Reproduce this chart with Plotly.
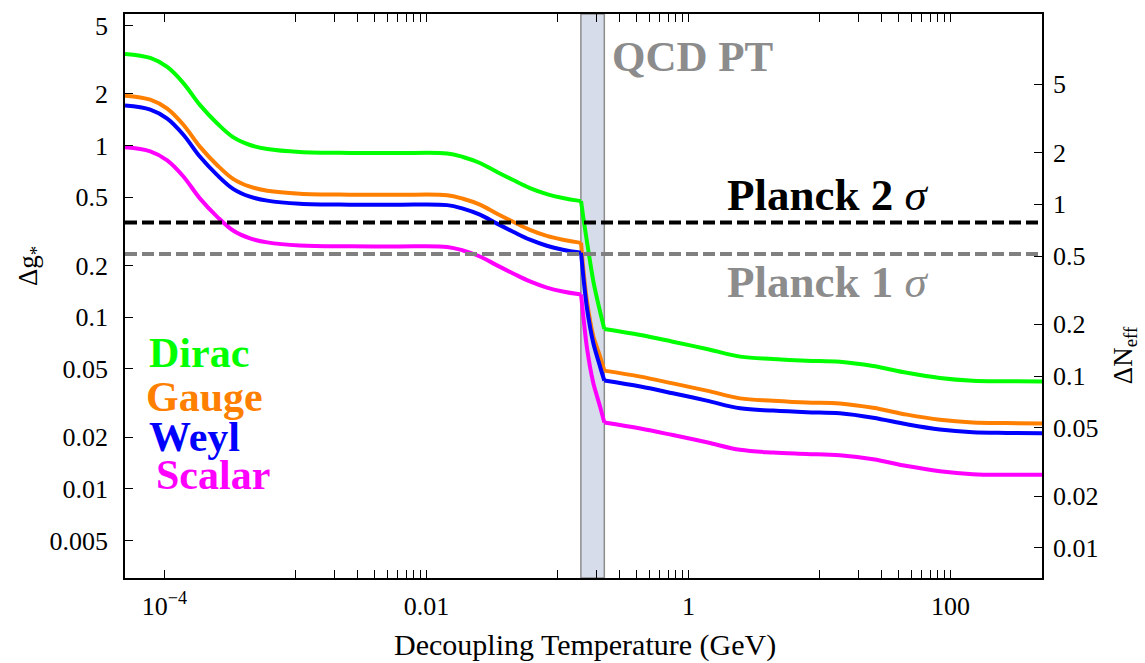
import numpy as np
import plotly.graph_objects as go

# ---------------- data ----------------
# decoupling temperature (GeV) – before the QCD band
T_pre = [5e-5, 7.8e-5, 1.05e-4, 1.39e-4, 1.87e-4, 2.52e-4, 3.34e-4, 4.5e-4, 6.1e-4,
         1.08e-3, 2.6e-3, 6.0e-3, 0.0144, 0.019, 0.0256, 0.0346, 0.0459, 0.0617,
         0.083, 0.110, 0.1436, 0.1514]
# inside the QCD band
T_qcd = [0.1514, 0.1577, 0.1675, 0.188, 0.2115, 0.228]
# after the QCD band
T_post = [0.228, 0.43, 0.76, 1.38, 2.48, 4.42, 8.0, 14.3, 25.7, 46.6, 83, 148, 269, 500]

dirac_pre = [3.42, 3.24, 2.87, 2.32, 1.72, 1.35, 1.12, 1.008, 0.955, 0.918, 0.906, 0.905,
             0.900, 0.858, 0.792, 0.702, 0.630, 0.566, 0.522, 0.495, 0.478, 0.476]
gauge_pre = [1.954, 1.851, 1.640, 1.326, 0.983, 0.771, 0.640, 0.576, 0.546, 0.525, 0.518, 0.517,
             0.514, 0.490, 0.453, 0.401, 0.360, 0.323, 0.298, 0.283, 0.273, 0.272]
weyl_pre = [1.71, 1.62, 1.435, 1.16, 0.86, 0.675, 0.56, 0.504, 0.478, 0.459, 0.453, 0.4525,
            0.450, 0.429, 0.396, 0.351, 0.315, 0.283, 0.261, 0.2475, 0.239, 0.238]
scalar_pre = [0.977, 0.926, 0.820, 0.663, 0.491, 0.386, 0.320, 0.288, 0.273, 0.262, 0.259, 0.2586,
              0.257, 0.245, 0.226, 0.2006, 0.180, 0.1617, 0.149, 0.1414, 0.1366, 0.136]

dirac_qcd = [0.476, 0.38, 0.28, 0.162, 0.108, 0.0855]
gauge_qcd = [0.272, 0.189, 0.126, 0.0773, 0.0592, 0.0489]
weyl_qcd = [0.238, 0.172, 0.115, 0.0706, 0.0516, 0.0428]
scalar_qcd = [0.136, 0.1008, 0.0674, 0.0413, 0.0302, 0.0244]

dirac_post = [0.0855, 0.0789, 0.0721, 0.0654, 0.0590, 0.0572, 0.0559, 0.0551, 0.0520, 0.0475,
              0.0443, 0.0427, 0.0424, 0.0422]
gauge_post = [0.0489, 0.0451, 0.0412, 0.0374, 0.0337, 0.0327, 0.0319, 0.0315, 0.0297, 0.0271,
              0.0253, 0.0244, 0.0242, 0.0241]
weyl_post = [0.0428, 0.0395, 0.0361, 0.0327, 0.0295, 0.0286, 0.0280, 0.0276, 0.0260, 0.0238,
             0.0222, 0.0214, 0.0212, 0.0211]
scalar_post = [0.0244, 0.0225, 0.0206, 0.0187, 0.0169, 0.0163, 0.0160, 0.0157, 0.0149, 0.0136,
               0.0127, 0.0122, 0.0121, 0.0121]

series_names = ["Dirac", "Gauge", "Weyl", "Scalar"]
series_colors = ["#00ff00", "#ff7f00", "#0000ff", "#ff00ff"]

planck_2sigma = 0.356
planck_1sigma = 0.234
qcd_band = [0.151, 0.228]
neff_factor = 2.2   # Delta N_eff = factor * Delta g_*

x_tickvals = [1e-4, 1e-2, 1, 100]
x_ticktext = ["10<sup>\u22124</sup>", "0.01", "1", "100"]
y_tickvals = [0.005, 0.01, 0.02, 0.05, 0.1, 0.2, 0.5, 1, 2, 5]
y_ticktext = ["0.005", "0.01", "0.02", "0.05", "0.1", "0.2", "0.5", "1", "2", "5"]
y2_tickvals = [0.01, 0.02, 0.05, 0.1, 0.2, 0.5, 1, 2, 5]
y2_ticktext = ["0.01", "0.02", "0.05", "0.1", "0.2", "0.5", "1", "2", "5"]

x_range = [5e-5, 500]
y_range = [0.00303, 5.84]

# ---------------- figure ----------------
FONT = "Liberation Serif"
fig = go.Figure()

pre = [dirac_pre, gauge_pre, weyl_pre, scalar_pre]
qcd = [dirac_qcd, gauge_qcd, weyl_qcd, scalar_qcd]
post = [dirac_post, gauge_post, weyl_post, scalar_post]

for name, col, a, b, c in zip(series_names, series_colors, pre, qcd, post):
    fig.add_trace(go.Scatter(x=T_pre, y=a, mode="lines", name=name, showlegend=False,
                             line=dict(color=col, width=4, shape="spline", smoothing=1.0)))
    fig.add_trace(go.Scatter(x=T_qcd, y=b, mode="lines", name=name, showlegend=False,
                             line=dict(color=col, width=4, shape="spline", smoothing=0.6)))
    fig.add_trace(go.Scatter(x=T_post, y=c, mode="lines", name=name, showlegend=False,
                             line=dict(color=col, width=4, shape="spline", smoothing=1.0)))

# invisible trace so that the right axis is drawn
fig.add_trace(go.Scatter(x=[x_range[0]], y=[y2_tickvals[0]], yaxis="y2", mode="markers",
                         marker=dict(opacity=0), showlegend=False, hoverinfo="skip"))

# QCD band
fig.add_shape(type="rect", xref="x", yref="paper", x0=qcd_band[0], x1=qcd_band[1], y0=0, y1=1,
              fillcolor="#d6dce9", line=dict(color="#8c8c8c", width=1.5), layer="below")

# Planck lines
fig.add_shape(type="line", xref="paper", yref="y", x0=0, x1=1, y0=planck_2sigma, y1=planck_2sigma,
              line=dict(color="black", width=4, dash="12px,5px"))
fig.add_shape(type="line", xref="paper", yref="y", x0=0, x1=1, y0=planck_1sigma, y1=planck_1sigma,
              line=dict(color="#808080", width=4, dash="12px,5px"))

# text annotations
def ann(text, x, y, color, size, xanchor="left", yanchor="middle", angle=0):
    fig.add_annotation(text=text, xref="paper", yref="paper", x=x, y=y, showarrow=False,
                       xanchor=xanchor, yanchor=yanchor, textangle=angle,
                       font=dict(family=FONT, size=size, color=color))

ann("<b>QCD PT</b>", 0.529, 0.924, "#8c8c8c", 43)
ann("<b>Planck 2 </b><i>\u03c3</i>", 0.767, 0.679, "black", 45, xanchor="center")
ann("<b>Planck 1 </b><i>\u03c3</i>", 0.767, 0.525, "#8c8c8c", 45, xanchor="center")
ann("<b>Dirac</b>", 0.024, 0.399, series_colors[0], 42)
ann("<b>Gauge</b>", 0.021, 0.321, series_colors[1], 42)
ann("<b>Weyl</b>", 0.024, 0.250, series_colors[2], 42)
ann("<b>Scalar</b>", 0.032, 0.183, series_colors[3], 42)

# axis titles
ann("\u0394g<sub>*</sub>", -0.1036, 0.553, "black", 27, xanchor="center", angle=-90)
ann("\u0394N<sub>eff</sub>", 1.0905, 0.395, "black", 27, xanchor="center", angle=-90)
ann("Decoupling Temperature (GeV)", 0.5016, -0.118, "black", 30, xanchor="center")

fig.update_layout(
    width=1145, height=663,
    margin=dict(l=125, r=103, t=14, b=85),
    plot_bgcolor="white", paper_bgcolor="white",
    font=dict(family=FONT, size=26, color="black"),
    showlegend=False,
    xaxis=dict(type="log", range=[np.log10(x_range[0]), np.log10(x_range[1])],
               tickvals=x_tickvals, ticktext=x_ticktext, ticks="inside", ticklen=8,
               tickwidth=1.2, tickcolor="black", showline=True, linecolor="black", linewidth=1.5,
               mirror="allticks", showgrid=False, zeroline=False,
               tickfont=dict(family=FONT, size=26), ticklabelstandoff=4,
               minor=dict(tickvals=[m * 10.0 ** k for k in (-3, -1, 1) for m in range(1, 10)],
                          ticks="inside", ticklen=4, tickcolor="black", tickwidth=1, showgrid=False)),
    yaxis=dict(type="log", range=[np.log10(y_range[0]), np.log10(y_range[1])],
               tickvals=y_tickvals, ticktext=y_ticktext, ticks="inside", ticklen=8,
               tickwidth=1.2, tickcolor="black", showline=True, linecolor="black", linewidth=1.5,
               mirror=False, showgrid=False, zeroline=False, ticklabelstandoff=10,
               tickfont=dict(family=FONT, size=26)),
    yaxis2=dict(type="log", overlaying="y", side="right",
                range=[np.log10(y_range[0] * neff_factor), np.log10(y_range[1] * neff_factor)],
                tickvals=y2_tickvals, ticktext=y2_ticktext, ticks="inside", ticklen=8,
                tickwidth=1.2, tickcolor="black", showline=True, linecolor="black", linewidth=1.5,
                showgrid=False, zeroline=False, tickfont=dict(family=FONT, size=26),
                ticklabelstandoff=4),
)

fig.write_html("out.html", config={"displayModeBar": False},
               post_script="document.body.style.margin='0px';document.body.style.overflow='hidden';")
